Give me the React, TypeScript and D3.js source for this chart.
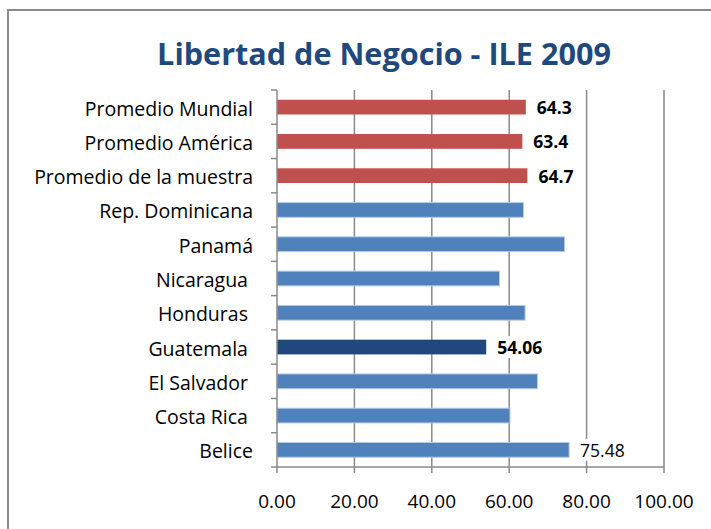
import React, { useEffect } from "react";
import * as d3 from "d3";

const categories = [
  "Promedio Mundial",
  "Promedio América",
  "Promedio de la muestra",
  "Rep. Dominicana",
  "Panamá",
  "Nicaragua ",
  "Honduras ",
  "Guatemala ",
  "El Salvador ",
  "Costa Rica ",
  "Belice",
];
const values = [64.3, 63.4, 64.7, 63.7, 74.3, 57.5, 64.1, 54.06, 67.3, 60.2, 75.48];
const kinds = ["avg", "avg", "avg", "c", "c", "c", "c", "hl", "c", "c", "c"];
const valueLabels = ["64.3", "63.4", "64.7", "", "", "", "", "54.06", "", "", "75.48"];
const labelBold = [true, true, true, false, false, false, false, true, false, false, false];
const xTicks = [0, 20, 40, 60, 80, 100];
const title = "Libertad de Negocio - ILE 2009";

const W = 711;
const H = 529;
const plotLeft = 277;
const plotRight = 664;
const plotTop = 90;
const plotBottom = 467;
const FONT = "'Open Sans', 'Noto Sans', sans-serif";
const GRID = "#8a8a8a";

const colorFor: Record<string, string> = {
  avg: "#C0504D",
  c: "#4F81BD",
  hl: "#1F497D",
};

export default function App() {
  useEffect(() => {
    document.body.style.margin = "0";
  }, []);

  const x = d3.scaleLinear().domain([0, 100]).range([plotLeft, plotRight]);
  const y = d3
    .scaleBand<string>()
    .domain(categories)
    .range([plotTop, plotBottom])
    .padding(0);
  const bw = y.bandwidth();
  const barH = bw * 0.43;
  const boundaries = d3.range(categories.length + 1).map((i) => plotTop + i * bw);

  return (
    <svg width={W} height={H} style={{ display: "block" }} fontFamily={FONT}>
      <rect x={0} y={0} width={W} height={H} fill="#fff" />
      <rect x={8} y={10} width={W + 20} height={H + 20} fill="none" stroke="#8a8a8a" strokeWidth={2} />
      <text
        x={384}
        y={65}
        textAnchor="middle"
        fontSize={30.6}
        fontWeight="bold"
        fill="#1F497D"
      >
        {title}
      </text>

      {/* gridlines */}
      {xTicks.slice(1).map((t) => (
        <line key={"g" + t} x1={x(t)} x2={x(t)} y1={plotTop} y2={plotBottom} stroke={GRID} strokeWidth={1.5} />
      ))}

      {/* bars */}
      {categories.map((c, i) => {
        const cy = (y(c) as number) + bw / 2;
        return (
          <rect
            key={"b" + i}
            x={x(0)}
            y={cy - barH / 2}
            width={x(values[i]) - x(0)}
            height={barH}
            fill={colorFor[kinds[i]]}
            stroke={kinds[i] === "c" ? "#b7cbe4" : "none"}
            strokeWidth={1}
          />
        );
      })}

      {/* axes */}
      <line x1={plotLeft} x2={plotLeft} y1={plotTop} y2={plotBottom} stroke={GRID} strokeWidth={1.5} />
      <line x1={plotLeft} x2={plotRight} y1={plotBottom} y2={plotBottom} stroke={GRID} strokeWidth={1.5} />
      {boundaries.map((b, i) => (
        <line key={"yt" + i} x1={plotLeft - 6} x2={plotLeft} y1={b} y2={b} stroke={GRID} strokeWidth={1.5} />
      ))}
      {xTicks.map((t) => (
        <g key={"xt" + t}>
          <line x1={x(t)} x2={x(t)} y1={plotBottom} y2={plotBottom + 6} stroke={GRID} strokeWidth={1.5} />
          <text x={x(t)} y={508} textAnchor="middle" fontSize={19} fill="#000">
            {t.toFixed(2)}
          </text>
        </g>
      ))}

      {/* category labels */}
      {categories.map((c, i) => {
        const cy = (y(c) as number) + bw / 2;
        return (
          <text
            key={"c" + i}
            x={253}
            y={cy + 8.5}
            textAnchor="end"
            fontSize={19.5}
            fill="#000"
            style={{ whiteSpace: "pre" }}
          >
            {c}
          </text>
        );
      })}

      {/* value labels */}
      {categories.map((c, i) => {
        if (!valueLabels[i]) return null;
        const cy = (y(c) as number) + bw / 2;
        const lx = x(values[i]) + 11;
        const wEst = valueLabels[i].length * 10 + 2;
        return (
          <g key={"v" + i}>
            <rect x={lx - 3} y={cy - 11} width={wEst + 6} height={22} fill="#fff" />
            <text
              x={lx}
              y={cy + 7}
              fontSize={17.5}
              fontWeight={labelBold[i] ? "bold" : "normal"}
              fill="#000"
            >
              {valueLabels[i]}
            </text>
          </g>
        );
      })}
    </svg>
  );
}
